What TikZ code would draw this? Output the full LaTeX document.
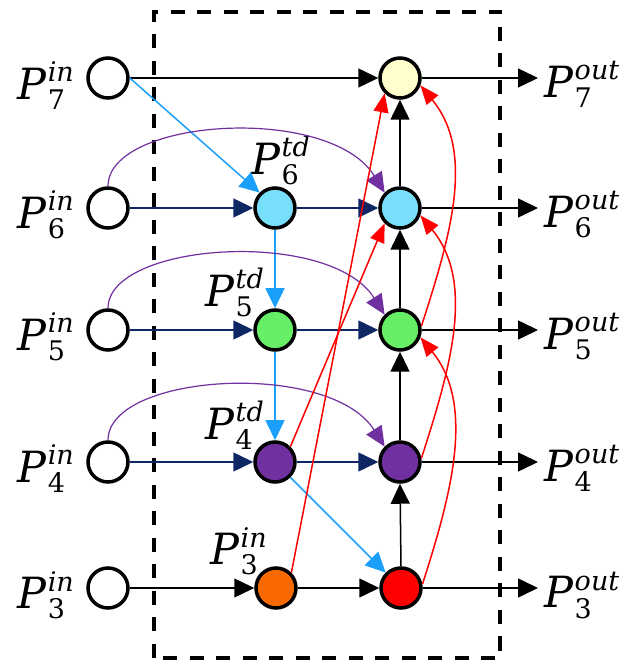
\documentclass[tikz,border=0pt]{standalone}
\usepackage{fontspec}
\newfontfamily\labfont{DejaVu Serif}
\usetikzlibrary{arrows.meta}
\definecolor{yellowN}{HTML}{FFFFCC}
\definecolor{cyanN}{HTML}{77DFFA}
\definecolor{greenN}{HTML}{66EE66}
\definecolor{purpleN}{HTML}{7030A0}
\definecolor{orangeN}{HTML}{F86A00}
\definecolor{redN}{HTML}{FF0000}
\definecolor{lblue}{HTML}{1AA0FA}
\definecolor{navyN}{HTML}{0F2665}
\newcommand{\scrsz}{\fontsize{27}{28}\selectfont}
\newcommand{\plab}[2]{\textit{P}\kern1pt\rlap{\raisebox{-10pt}{\scrsz\upshape #1}}\raisebox{18pt}{\scrsz\textit{#2}}}
\begin{document}
\begin{tikzpicture}[x=1pt,y=1pt,
  nd/.style={circle, draw=black, line width=3.5pt, minimum size=40pt, inner sep=0pt},
  lab/.style={inner sep=0pt, font=\labfont\fontsize{43}{50}\selectfont},
  barr/.style={draw=black, line width=1.5pt, -{Triangle[length=20pt,width=19pt]}},
  narr/.style={draw=navyN, line width=1.5pt, -{Triangle[length=20pt,width=19pt]}},
  larr/.style={draw=lblue, line width=1.5pt, -{Triangle[length=20pt,width=19pt]}},
  parr/.style={draw=purpleN, line width=1.2pt, -{Triangle[length=20pt,width=18pt]}},
  rarr/.style={draw=redN, line width=1.5pt, -{Triangle[length=19pt,width=15pt]}},
  boxline/.style={line width=4pt, dash pattern=on 14pt off 12.5pt}
]
\useasboundingbox (0,0) rectangle (632,664);
\draw[boxline] (154,6) rectangle (500,652);

% input nodes
\node[nd, fill=white] (in7) at (108,586) {};
\node[nd, fill=white] (in6) at (108,456) {};
\node[nd, fill=white] (in5) at (108,334) {};
\node[nd, fill=white] (in4) at (108,202) {};
\node[nd, fill=white] (in3) at (108,76) {};
% middle column
\node[nd, fill=cyanN] (td6) at (275,456) {};
\node[nd, fill=greenN] (td5) at (275,334) {};
\node[nd, fill=purpleN] (td4) at (275,202) {};
\node[nd, fill=orangeN] (mid3) at (276,76) {};
% output column
\node[nd, fill=yellowN] (o7) at (400,586) {};
\node[nd, fill=cyanN] (o6) at (400,456) {};
\node[nd, fill=greenN] (o5) at (400,334) {};
\node[nd, fill=purpleN] (o4) at (400,202) {};
\node[nd, fill=redN] (o3) at (401,76) {};

% labels
\node[lab, anchor=base east] (l7) at (74,564) {\plab{7}{in}};
\node[lab, anchor=base east] (l6) at (74,435) {\plab{6}{in}};
\node[lab, anchor=base east] (l5) at (74,313) {\plab{5}{in}};
\node[lab, anchor=base east] (l4) at (74,181) {\plab{4}{in}};
\node[lab, anchor=base east] (l3) at (74,55) {\plab{3}{in}};
\node[lab, anchor=base west] (lt6) at (251,489) {\plab{6}{td}};
\node[lab, anchor=base west] (lt5) at (205,357) {\plab{5}{td}};
\node[lab, anchor=base west] (lt4) at (205,224) {\plab{4}{td}};
\node[lab, anchor=base west] (lm3) at (210,99) {\plab{3}{in}};
\node[lab, anchor=base west] (r7) at (544,566) {\plab{7}{out}};
\node[lab, anchor=base west] (r6) at (544,436) {\plab{6}{out}};
\node[lab, anchor=base west] (r5) at (544,314) {\plab{5}{out}};
\node[lab, anchor=base west] (r4) at (544,182) {\plab{4}{out}};
\node[lab, anchor=base west] (r3) at (544,56) {\plab{3}{out}};

% output arrow ends
\coordinate (e7) at (538,586);
\coordinate (e6) at (538,456);
\coordinate (e5) at (538,334);
\coordinate (e4) at (538,202);
\coordinate (e3) at (538,76);

% black connectors
\draw[barr] (in7.east) -- (o7.west);
\draw[barr] (in3.east) -- (mid3.west);
\draw[barr] (mid3.east) -- (o3.west);
\draw[barr] (o3.north) -- (o4.south);
\draw[barr] (o4.north) -- (o5.south);
\draw[barr] (o5.north) -- (o6.south);
\draw[barr] (o6.north) -- (o7.south);
\draw[barr] (o7.east) -- (e7);
\draw[barr] (o6.east) -- (e6);
\draw[barr] (o5.east) -- (e5);
\draw[barr] (o4.east) -- (e4);
\draw[barr] (o3.east) -- (e3);

% navy connectors
\draw[narr] (in6.east) -- (td6.west);
\draw[narr] (td6.east) -- (o6.west);
\draw[narr] (in5.east) -- (td5.west);
\draw[narr] (td5.east) -- (o5.west);
\draw[narr] (in4.east) -- (td4.west);
\draw[narr] (td4.east) -- (o4.west);

% light blue connectors
\draw[larr] (in7.east) -- (td6.north west);
\draw[larr] (td6.south) -- (td5.north);
\draw[larr] (td5.south) -- (td4.north);
\draw[larr] (td4.south east) -- (o3.north west);

% purple arcs
\draw[parr] (in6.north) .. controls +(0,68) and +(-55,89) .. (o6.north west);
\draw[parr] (in5.north) .. controls +(0,66) and +(-55,87) .. (o5.north west);
\draw[parr] (in4.north) .. controls +(0,67) and +(-55,87) .. (o4.north west);

% red connectors
\draw[rarr] (mid3.north east) -- (o7.south west);
\draw[rarr] (td4.north east) -- (o6.south west);
\draw[rarr] (o3.10) .. controls +(29,90) and +(55,-67) .. (o5.-20);
\draw[rarr] (o4.10) .. controls +(29,90) and +(55,-67) .. (o6.-20);
\draw[rarr] (o5.10) .. controls +(29,90) and +(55,-67) .. (o7.-20);
\end{tikzpicture}
\end{document}
